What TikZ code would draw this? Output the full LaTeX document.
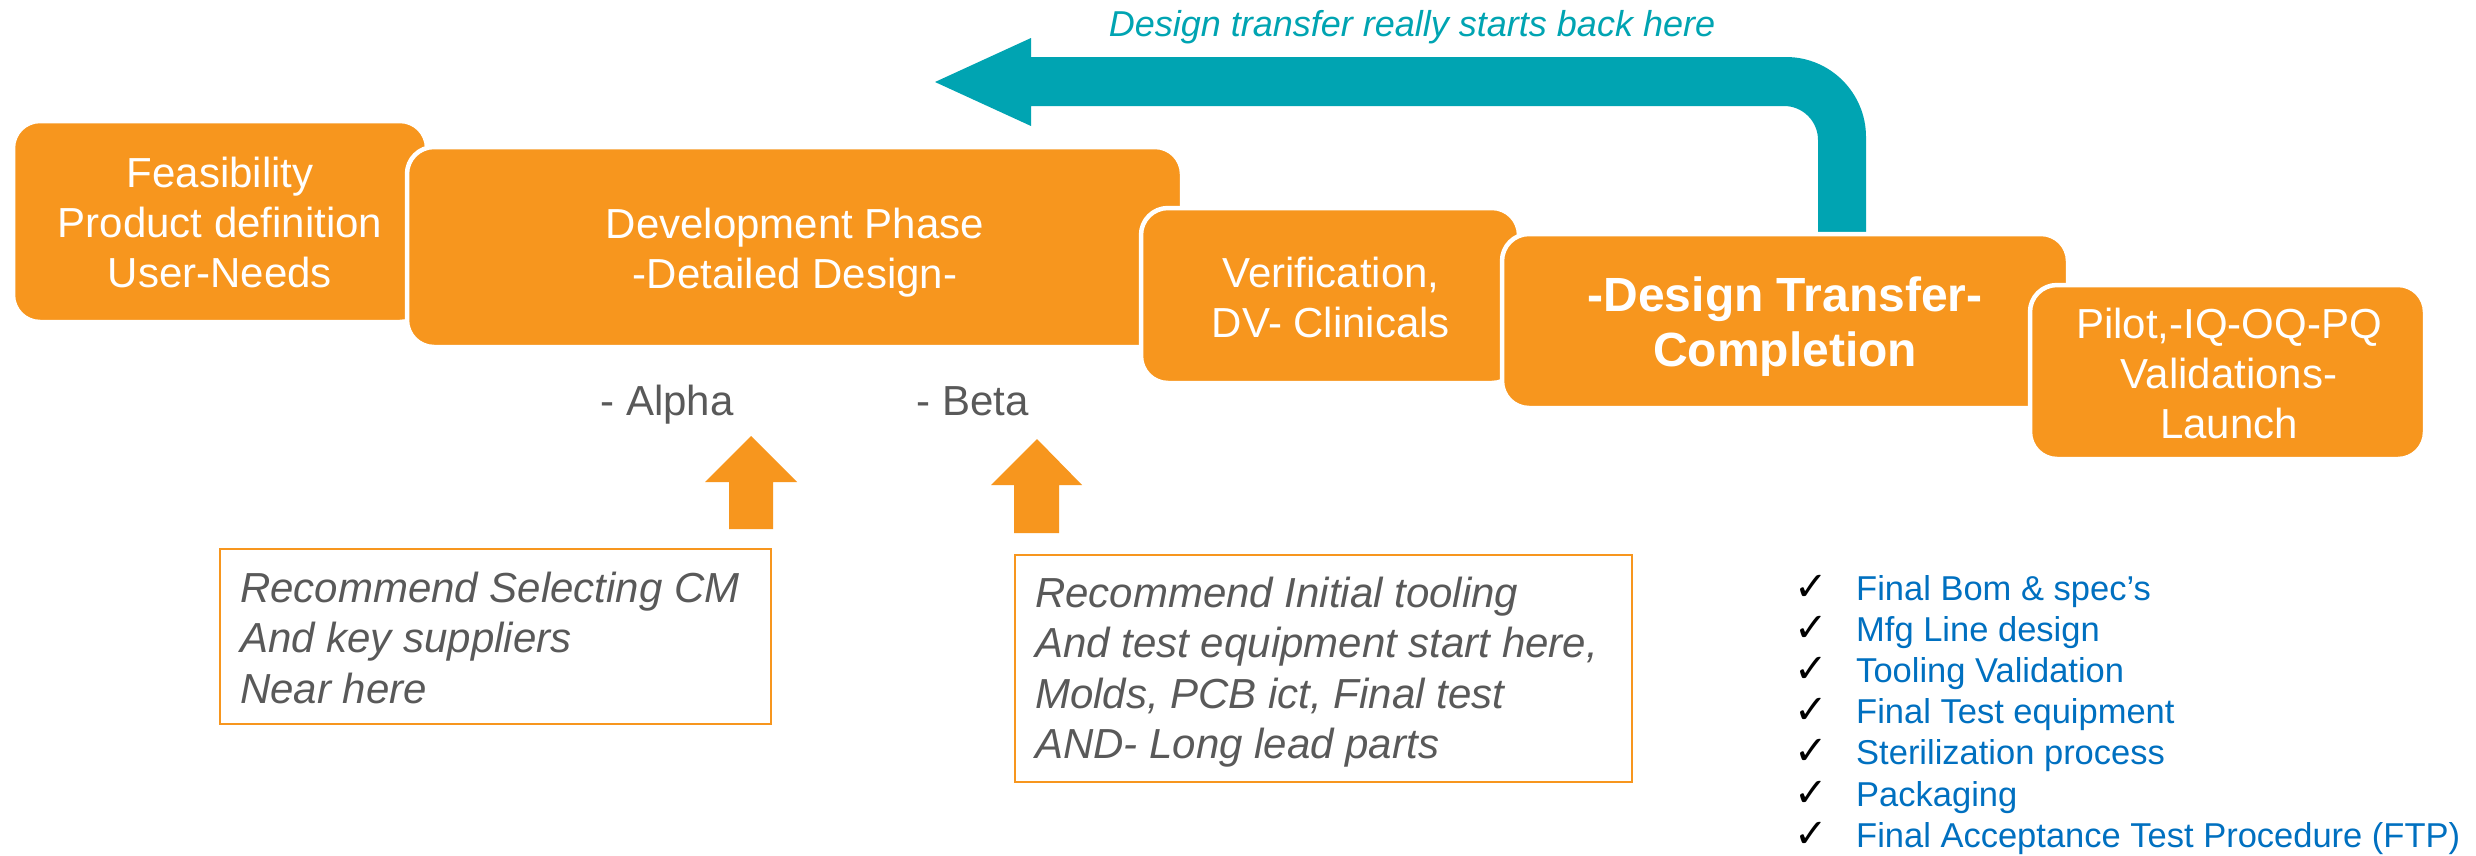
\documentclass[tikz,border=0pt]{standalone}
\usepackage{fontspec}
\setmainfont{Liberation Sans}
\newfontfamily\symfont{DejaVu Sans}
\definecolor{orng}{HTML}{F7961E}
\definecolor{tealc}{HTML}{00A4B2}
\definecolor{grayt}{HTML}{595959}
\definecolor{bluet}{HTML}{0070C0}
\tikzset{
  phase/.style={draw=white, line width=4.5pt, fill=orng, rounded corners=27pt, inner sep=0pt},
  phasetext/.style={text=white, align=center, inner sep=0pt, font=\fontsize{42}{50}\selectfont},
  notebox/.style={draw=orng, line width=2pt, fill=white, inner sep=0pt},
  notetext/.style={text=grayt, align=left, inner sep=0pt, anchor=north west, font=\fontsize{42}{50.3}\selectfont\itshape},
  milestone/.style={text=grayt, inner sep=0pt, anchor=base, font=\fontsize{42}{50}\selectfont},
  checkmk/.style={inner sep=0pt, anchor=base west, font=\fontsize{40}{44}\symfont},
  checktxt/.style={text=bluet, inner sep=0pt, anchor=base west, font=\fontsize{34.5}{41}\selectfont},
}
\begin{document}
\begin{tikzpicture}[x=1pt,y=-1pt]
\useasboundingbox[fill=white] (0,0) rectangle (2476,855);

% phase boxes
\node[phase, minimum width=414, minimum height=201] (feas) at (220,221.5) {};
\node[phasetext] (feast) at (220,222) {Feasibility\\Product definition\\User-Needs};
\node[phase, minimum width=775, minimum height=200] (dev) at (794.5,247) {};
\node[phasetext] (devt) at (795,252.3) {Development Phase\\-Detailed Design-};
\node[phase, minimum width=378, minimum height=175] (ver) at (1330,295.5) {};
\node[phasetext] (vert) at (1331,297) {Verification,\\DV- Clinicals};

% teal return arrow
\fill[tealc] (1031,57) -- (1786,57) .. controls (1830.2,57) and (1866,92.8) .. (1866,137)
  -- (1866,236) -- (1818,236) -- (1818,140) .. controls (1818,121.2) and (1802.8,106) .. (1784,106)
  -- (1031,106) -- (1031,126) -- (935,82) -- (1031,38) -- cycle;
\node[text=tealc, inner sep=0pt, anchor=base, font=\fontsize{36}{42}\selectfont\itshape] (backlbl) at (1412,36) {Design transfer really starts back here};

\node[phase, minimum width=566, minimum height=174] (dt) at (1785,321) {};
\node[phasetext, font=\fontsize{48}{55}\selectfont\bfseries] (dtt) at (1785,327) {-Design Transfer-\\Completion};
\node[phase, minimum width=395, minimum height=174] (pilot) at (2227.5,372) {};
\node[phasetext] (pilott) at (2229,373) {Pilot,-IQ-OQ-PQ\\Validations-\\Launch};

% milestones
\node[milestone] (alpha) at (667,415) {- Alpha};
\node[milestone] (beta) at (973,415) {- Beta};

% up block arrows
\fill[orng] (729,529) -- (729,482) -- (705,482) -- (751,436) -- (797,482) -- (773,482) -- (773,529) -- cycle;
\fill[orng] (1014,533) -- (1014,485) -- (991,485) -- (1037,439) -- (1082,485) -- (1059,485) -- (1059,533) -- cycle;

% note boxes
\node[notebox, minimum width=551, minimum height=175] (cmbox) at (495.5,636.5) {};
\node[notetext] (cmtext) at (240,572) {Recommend Selecting CM\\And key suppliers\\Near here};
\node[notebox, minimum width=617, minimum height=227] (toolbox) at (1323.5,668.5) {};
\node[notetext] (tooltext) at (1035,577) {Recommend Initial tooling\\And test equipment start here,\\Molds, PCB ict, Final test\\AND- Long lead parts};

% checklist
\foreach \i/\t in {0/{Final Bom \& spec’s},1/{Mfg Line design},2/{Tooling Validation},3/{Final Test equipment},4/{Sterilization process},5/{Packaging},6/{Final Acceptance Test Procedure (FTP)}}{
  \node[checkmk] (ck\i) at (1794,600+41.2*\i) {✓};
  \node[checktxt] (cl\i) at (1856,600+41.2*\i) {\t};
}
\end{tikzpicture}
\end{document}
